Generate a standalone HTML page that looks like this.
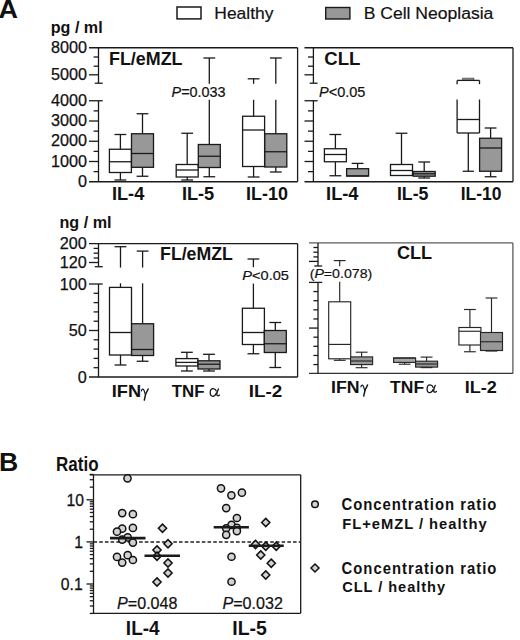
<!DOCTYPE html>
<html><head><meta charset="utf-8"><style>
html,body{margin:0;padding:0;background:#fff;}
svg{display:block;}
</style></head><body>
<svg width="520" height="640" viewBox="0 0 520 640">
<rect width="520" height="640" fill="#fff"/>
<line x1="89.00" y1="47.75" x2="297.60" y2="47.75" stroke="#1a1a1a" stroke-width="1.3"/>
<line x1="297.60" y1="47.75" x2="297.60" y2="181.75" stroke="#1a1a1a" stroke-width="1.3"/>
<line x1="89.00" y1="181.75" x2="297.60" y2="181.75" stroke="#1a1a1a" stroke-width="1.3"/>
<line x1="98.50" y1="47.75" x2="98.50" y2="83.20" stroke="#1a1a1a" stroke-width="1.3"/>
<line x1="93.60" y1="57.00" x2="98.50" y2="57.00" stroke="#1a1a1a" stroke-width="1.3"/>
<line x1="93.60" y1="66.20" x2="98.50" y2="66.20" stroke="#1a1a1a" stroke-width="1.3"/>
<line x1="89.00" y1="74.80" x2="98.50" y2="74.80" stroke="#1a1a1a" stroke-width="1.3"/>
<line x1="94.80" y1="83.20" x2="102.70" y2="83.20" stroke="#1a1a1a" stroke-width="1.3"/>
<line x1="98.50" y1="100.75" x2="98.50" y2="181.75" stroke="#1a1a1a" stroke-width="1.3"/>
<line x1="89.00" y1="100.75" x2="102.70" y2="100.75" stroke="#1a1a1a" stroke-width="1.3"/>
<line x1="93.60" y1="110.88" x2="98.50" y2="110.88" stroke="#1a1a1a" stroke-width="1.3"/>
<line x1="93.60" y1="131.12" x2="98.50" y2="131.12" stroke="#1a1a1a" stroke-width="1.3"/>
<line x1="93.60" y1="151.38" x2="98.50" y2="151.38" stroke="#1a1a1a" stroke-width="1.3"/>
<line x1="93.60" y1="171.62" x2="98.50" y2="171.62" stroke="#1a1a1a" stroke-width="1.3"/>
<line x1="89.00" y1="121.00" x2="98.50" y2="121.00" stroke="#1a1a1a" stroke-width="1.3"/>
<line x1="89.00" y1="141.25" x2="98.50" y2="141.25" stroke="#1a1a1a" stroke-width="1.3"/>
<line x1="89.00" y1="161.50" x2="98.50" y2="161.50" stroke="#1a1a1a" stroke-width="1.3"/>
<line x1="304.50" y1="47.75" x2="513.00" y2="47.75" stroke="#1a1a1a" stroke-width="1.3"/>
<line x1="513.00" y1="47.75" x2="513.00" y2="181.75" stroke="#1a1a1a" stroke-width="1.3"/>
<line x1="304.50" y1="181.75" x2="513.00" y2="181.75" stroke="#1a1a1a" stroke-width="1.3"/>
<line x1="313.40" y1="47.75" x2="313.40" y2="83.20" stroke="#1a1a1a" stroke-width="1.3"/>
<line x1="308.00" y1="57.00" x2="313.40" y2="57.00" stroke="#1a1a1a" stroke-width="1.3"/>
<line x1="308.00" y1="66.20" x2="313.40" y2="66.20" stroke="#1a1a1a" stroke-width="1.3"/>
<line x1="304.50" y1="74.80" x2="313.40" y2="74.80" stroke="#1a1a1a" stroke-width="1.3"/>
<line x1="309.70" y1="83.20" x2="317.60" y2="83.20" stroke="#1a1a1a" stroke-width="1.3"/>
<line x1="313.40" y1="100.75" x2="313.40" y2="181.75" stroke="#1a1a1a" stroke-width="1.3"/>
<line x1="304.50" y1="100.75" x2="317.60" y2="100.75" stroke="#1a1a1a" stroke-width="1.3"/>
<line x1="308.00" y1="110.88" x2="313.40" y2="110.88" stroke="#1a1a1a" stroke-width="1.3"/>
<line x1="308.00" y1="131.12" x2="313.40" y2="131.12" stroke="#1a1a1a" stroke-width="1.3"/>
<line x1="308.00" y1="151.38" x2="313.40" y2="151.38" stroke="#1a1a1a" stroke-width="1.3"/>
<line x1="308.00" y1="171.62" x2="313.40" y2="171.62" stroke="#1a1a1a" stroke-width="1.3"/>
<line x1="304.50" y1="121.00" x2="313.40" y2="121.00" stroke="#1a1a1a" stroke-width="1.3"/>
<line x1="304.50" y1="141.25" x2="313.40" y2="141.25" stroke="#1a1a1a" stroke-width="1.3"/>
<line x1="304.50" y1="161.50" x2="313.40" y2="161.50" stroke="#1a1a1a" stroke-width="1.3"/>
<line x1="120.40" y1="134.50" x2="120.40" y2="149.25" stroke="#1a1a1a" stroke-width="1.3"/>
<line x1="114.50" y1="134.50" x2="126.30" y2="134.50" stroke="#1a1a1a" stroke-width="1.3"/>
<line x1="120.40" y1="172.50" x2="120.40" y2="180.00" stroke="#1a1a1a" stroke-width="1.3"/>
<line x1="114.50" y1="180.00" x2="126.30" y2="180.00" stroke="#1a1a1a" stroke-width="1.3"/>
<rect x="109.40" y="149.25" width="22.00" height="23.25" fill="#fff" stroke="#1a1a1a" stroke-width="1.3"/>
<line x1="109.40" y1="161.75" x2="131.40" y2="161.75" stroke="#1a1a1a" stroke-width="1.3"/>
<line x1="142.50" y1="113.75" x2="142.50" y2="133.75" stroke="#1a1a1a" stroke-width="1.3"/>
<line x1="136.60" y1="113.75" x2="148.40" y2="113.75" stroke="#1a1a1a" stroke-width="1.3"/>
<line x1="142.50" y1="167.30" x2="142.50" y2="176.25" stroke="#1a1a1a" stroke-width="1.3"/>
<line x1="136.60" y1="176.25" x2="148.40" y2="176.25" stroke="#1a1a1a" stroke-width="1.3"/>
<rect x="131.50" y="133.75" width="22.00" height="33.55" fill="#989898" stroke="#1a1a1a" stroke-width="1.3"/>
<line x1="131.50" y1="153.50" x2="153.50" y2="153.50" stroke="#1a1a1a" stroke-width="1.3"/>
<line x1="187.20" y1="133.25" x2="187.20" y2="164.50" stroke="#1a1a1a" stroke-width="1.3"/>
<line x1="181.30" y1="133.25" x2="193.10" y2="133.25" stroke="#1a1a1a" stroke-width="1.3"/>
<line x1="187.20" y1="177.00" x2="187.20" y2="180.00" stroke="#1a1a1a" stroke-width="1.3"/>
<line x1="181.30" y1="180.00" x2="193.10" y2="180.00" stroke="#1a1a1a" stroke-width="1.3"/>
<rect x="176.20" y="164.50" width="22.00" height="12.50" fill="#fff" stroke="#1a1a1a" stroke-width="1.3"/>
<line x1="176.20" y1="170.00" x2="198.20" y2="170.00" stroke="#1a1a1a" stroke-width="1.3"/>
<line x1="209.30" y1="58.00" x2="209.30" y2="83.80" stroke="#1a1a1a" stroke-width="1.3"/>
<line x1="209.30" y1="99.80" x2="209.30" y2="144.50" stroke="#1a1a1a" stroke-width="1.3"/>
<line x1="203.40" y1="58.00" x2="215.20" y2="58.00" stroke="#1a1a1a" stroke-width="1.3"/>
<line x1="209.30" y1="167.50" x2="209.30" y2="176.75" stroke="#1a1a1a" stroke-width="1.3"/>
<line x1="203.40" y1="176.75" x2="215.20" y2="176.75" stroke="#1a1a1a" stroke-width="1.3"/>
<rect x="198.30" y="144.50" width="22.00" height="23.00" fill="#989898" stroke="#1a1a1a" stroke-width="1.3"/>
<line x1="198.30" y1="156.25" x2="220.30" y2="156.25" stroke="#1a1a1a" stroke-width="1.3"/>
<line x1="253.60" y1="78.80" x2="253.60" y2="83.80" stroke="#1a1a1a" stroke-width="1.3"/>
<line x1="253.60" y1="99.80" x2="253.60" y2="116.25" stroke="#1a1a1a" stroke-width="1.3"/>
<line x1="247.70" y1="78.80" x2="259.50" y2="78.80" stroke="#1a1a1a" stroke-width="1.3"/>
<line x1="253.60" y1="166.50" x2="253.60" y2="177.00" stroke="#1a1a1a" stroke-width="1.3"/>
<line x1="247.70" y1="177.00" x2="259.50" y2="177.00" stroke="#1a1a1a" stroke-width="1.3"/>
<rect x="242.60" y="116.25" width="22.00" height="50.25" fill="#fff" stroke="#1a1a1a" stroke-width="1.3"/>
<line x1="242.60" y1="130.00" x2="264.60" y2="130.00" stroke="#1a1a1a" stroke-width="1.3"/>
<line x1="275.80" y1="58.00" x2="275.80" y2="83.80" stroke="#1a1a1a" stroke-width="1.3"/>
<line x1="275.80" y1="99.80" x2="275.80" y2="133.75" stroke="#1a1a1a" stroke-width="1.3"/>
<line x1="269.90" y1="58.00" x2="281.70" y2="58.00" stroke="#1a1a1a" stroke-width="1.3"/>
<line x1="275.80" y1="167.00" x2="275.80" y2="172.00" stroke="#1a1a1a" stroke-width="1.3"/>
<line x1="269.90" y1="172.00" x2="281.70" y2="172.00" stroke="#1a1a1a" stroke-width="1.3"/>
<rect x="264.80" y="133.75" width="22.00" height="33.25" fill="#989898" stroke="#1a1a1a" stroke-width="1.3"/>
<line x1="264.80" y1="151.75" x2="286.80" y2="151.75" stroke="#1a1a1a" stroke-width="1.3"/>
<line x1="335.40" y1="134.50" x2="335.40" y2="148.75" stroke="#1a1a1a" stroke-width="1.3"/>
<line x1="329.50" y1="134.50" x2="341.30" y2="134.50" stroke="#1a1a1a" stroke-width="1.3"/>
<line x1="335.40" y1="161.75" x2="335.40" y2="175.75" stroke="#1a1a1a" stroke-width="1.3"/>
<line x1="329.50" y1="175.75" x2="341.30" y2="175.75" stroke="#1a1a1a" stroke-width="1.3"/>
<rect x="324.40" y="148.75" width="22.00" height="13.00" fill="#fff" stroke="#1a1a1a" stroke-width="1.3"/>
<line x1="324.40" y1="154.50" x2="346.40" y2="154.50" stroke="#1a1a1a" stroke-width="1.3"/>
<line x1="357.60" y1="163.40" x2="357.60" y2="168.70" stroke="#1a1a1a" stroke-width="1.3"/>
<line x1="351.70" y1="163.40" x2="363.50" y2="163.40" stroke="#1a1a1a" stroke-width="1.3"/>
<rect x="346.60" y="168.70" width="22.00" height="7.30" fill="#989898" stroke="#1a1a1a" stroke-width="1.3"/>
<line x1="346.60" y1="176.00" x2="368.60" y2="176.00" stroke="#1a1a1a" stroke-width="1.3"/>
<line x1="401.50" y1="133.25" x2="401.50" y2="164.50" stroke="#1a1a1a" stroke-width="1.3"/>
<line x1="395.60" y1="133.25" x2="407.40" y2="133.25" stroke="#1a1a1a" stroke-width="1.3"/>
<rect x="390.50" y="164.50" width="22.00" height="11.00" fill="#fff" stroke="#1a1a1a" stroke-width="1.3"/>
<line x1="390.50" y1="170.50" x2="412.50" y2="170.50" stroke="#1a1a1a" stroke-width="1.3"/>
<line x1="424.20" y1="162.00" x2="424.20" y2="171.50" stroke="#1a1a1a" stroke-width="1.3"/>
<line x1="418.30" y1="162.00" x2="430.10" y2="162.00" stroke="#1a1a1a" stroke-width="1.3"/>
<line x1="424.20" y1="176.20" x2="424.20" y2="178.00" stroke="#1a1a1a" stroke-width="1.3"/>
<line x1="418.30" y1="178.00" x2="430.10" y2="178.00" stroke="#1a1a1a" stroke-width="1.3"/>
<rect x="413.20" y="171.50" width="22.00" height="4.70" fill="#989898" stroke="#1a1a1a" stroke-width="1.3"/>
<line x1="413.20" y1="173.80" x2="435.20" y2="173.80" stroke="#1a1a1a" stroke-width="1.3"/>
<rect x="457.10" y="99.5" width="22.40" height="33.50" fill="#fff" stroke="none"/>
<line x1="457.10" y1="99.50" x2="457.10" y2="133.00" stroke="#1a1a1a" stroke-width="1.3"/>
<line x1="479.50" y1="99.50" x2="479.50" y2="133.00" stroke="#1a1a1a" stroke-width="1.3"/>
<line x1="457.10" y1="133.00" x2="479.50" y2="133.00" stroke="#1a1a1a" stroke-width="1.3"/>
<line x1="457.10" y1="80.40" x2="479.50" y2="80.40" stroke="#1a1a1a" stroke-width="1.3"/>
<line x1="457.10" y1="80.40" x2="457.10" y2="84.20" stroke="#1a1a1a" stroke-width="1.3"/>
<line x1="479.50" y1="80.40" x2="479.50" y2="84.20" stroke="#1a1a1a" stroke-width="1.3"/>
<rect x="462.70" y="78.1" width="11.2" height="1.8" fill="#9a9a9a" stroke="#333" stroke-width="0.6"/>
<line x1="457.10" y1="119.50" x2="479.50" y2="119.50" stroke="#1a1a1a" stroke-width="1.3"/>
<line x1="468.30" y1="133.00" x2="468.30" y2="171.25" stroke="#1a1a1a" stroke-width="1.3"/>
<line x1="462.70" y1="171.25" x2="473.90" y2="171.25" stroke="#1a1a1a" stroke-width="1.3"/>
<line x1="490.60" y1="128.00" x2="490.60" y2="138.25" stroke="#1a1a1a" stroke-width="1.3"/>
<line x1="484.70" y1="128.00" x2="496.50" y2="128.00" stroke="#1a1a1a" stroke-width="1.3"/>
<line x1="490.60" y1="171.25" x2="490.60" y2="176.75" stroke="#1a1a1a" stroke-width="1.3"/>
<line x1="484.70" y1="176.75" x2="496.50" y2="176.75" stroke="#1a1a1a" stroke-width="1.3"/>
<rect x="479.60" y="138.25" width="22.00" height="33.00" fill="#989898" stroke="#1a1a1a" stroke-width="1.3"/>
<line x1="479.60" y1="148.00" x2="501.60" y2="148.00" stroke="#1a1a1a" stroke-width="1.3"/>
<text transform="translate(86.93,52.84) scale(1,1.000)" text-anchor="end" font-family="Liberation Sans" font-size="16.2" fill="#111" stroke="#111" stroke-width="0.25">8000</text>
<text transform="translate(86.93,79.89) scale(1,1.000)" text-anchor="end" font-family="Liberation Sans" font-size="16.2" fill="#111" stroke="#111" stroke-width="0.25">5000</text>
<text transform="translate(86.93,105.84) scale(1,1.000)" text-anchor="end" font-family="Liberation Sans" font-size="16.2" fill="#111" stroke="#111" stroke-width="0.25">4000</text>
<text transform="translate(86.93,126.09) scale(1,1.000)" text-anchor="end" font-family="Liberation Sans" font-size="16.2" fill="#111" stroke="#111" stroke-width="0.25">3000</text>
<text transform="translate(86.93,146.34) scale(1,1.000)" text-anchor="end" font-family="Liberation Sans" font-size="16.2" fill="#111" stroke="#111" stroke-width="0.25">2000</text>
<text transform="translate(86.93,166.59) scale(1,1.000)" text-anchor="end" font-family="Liberation Sans" font-size="16.2" fill="#111" stroke="#111" stroke-width="0.25">1000</text>
<text transform="translate(86.93,186.84) scale(1,1.000)" text-anchor="end" font-family="Liberation Sans" font-size="16.2" fill="#111" stroke="#111" stroke-width="0.25">0</text>
<line x1="89.00" y1="243.60" x2="297.60" y2="243.60" stroke="#1a1a1a" stroke-width="1.3"/>
<line x1="297.60" y1="243.60" x2="297.60" y2="377.00" stroke="#1a1a1a" stroke-width="1.3"/>
<line x1="89.00" y1="377.00" x2="297.60" y2="377.00" stroke="#1a1a1a" stroke-width="1.3"/>
<line x1="98.50" y1="243.60" x2="98.50" y2="266.70" stroke="#1a1a1a" stroke-width="1.3"/>
<line x1="93.60" y1="248.40" x2="98.50" y2="248.40" stroke="#1a1a1a" stroke-width="1.3"/>
<line x1="93.60" y1="253.20" x2="98.50" y2="253.20" stroke="#1a1a1a" stroke-width="1.3"/>
<line x1="93.60" y1="258.00" x2="98.50" y2="258.00" stroke="#1a1a1a" stroke-width="1.3"/>
<line x1="89.00" y1="262.50" x2="98.50" y2="262.50" stroke="#1a1a1a" stroke-width="1.3"/>
<line x1="94.80" y1="266.70" x2="102.70" y2="266.70" stroke="#1a1a1a" stroke-width="1.3"/>
<line x1="98.50" y1="284.00" x2="98.50" y2="377.00" stroke="#1a1a1a" stroke-width="1.3"/>
<line x1="89.00" y1="284.00" x2="102.70" y2="284.00" stroke="#1a1a1a" stroke-width="1.3"/>
<line x1="93.60" y1="293.30" x2="98.50" y2="293.30" stroke="#1a1a1a" stroke-width="1.3"/>
<line x1="93.60" y1="302.60" x2="98.50" y2="302.60" stroke="#1a1a1a" stroke-width="1.3"/>
<line x1="93.60" y1="311.90" x2="98.50" y2="311.90" stroke="#1a1a1a" stroke-width="1.3"/>
<line x1="93.60" y1="321.20" x2="98.50" y2="321.20" stroke="#1a1a1a" stroke-width="1.3"/>
<line x1="93.60" y1="339.80" x2="98.50" y2="339.80" stroke="#1a1a1a" stroke-width="1.3"/>
<line x1="93.60" y1="349.10" x2="98.50" y2="349.10" stroke="#1a1a1a" stroke-width="1.3"/>
<line x1="93.60" y1="358.40" x2="98.50" y2="358.40" stroke="#1a1a1a" stroke-width="1.3"/>
<line x1="93.60" y1="367.70" x2="98.50" y2="367.70" stroke="#1a1a1a" stroke-width="1.3"/>
<line x1="89.00" y1="330.50" x2="98.50" y2="330.50" stroke="#1a1a1a" stroke-width="1.3"/>
<line x1="309.00" y1="242.90" x2="512.90" y2="242.90" stroke="#5a5a5a" stroke-width="1.3"/>
<line x1="512.90" y1="242.90" x2="512.90" y2="373.40" stroke="#5a5a5a" stroke-width="1.3"/>
<line x1="309.00" y1="373.40" x2="512.90" y2="373.40" stroke="#333" stroke-width="1.3"/>
<line x1="318.00" y1="242.90" x2="318.00" y2="266.00" stroke="#1a1a1a" stroke-width="1.3"/>
<line x1="313.40" y1="247.50" x2="318.00" y2="247.50" stroke="#1a1a1a" stroke-width="1.3"/>
<line x1="313.40" y1="252.20" x2="318.00" y2="252.20" stroke="#1a1a1a" stroke-width="1.3"/>
<line x1="313.40" y1="256.90" x2="318.00" y2="256.90" stroke="#1a1a1a" stroke-width="1.3"/>
<line x1="309.00" y1="261.40" x2="318.00" y2="261.40" stroke="#1a1a1a" stroke-width="1.3"/>
<line x1="314.30" y1="266.00" x2="322.20" y2="266.00" stroke="#1a1a1a" stroke-width="1.3"/>
<line x1="318.00" y1="282.40" x2="318.00" y2="373.40" stroke="#1a1a1a" stroke-width="1.3"/>
<line x1="309.00" y1="282.40" x2="322.20" y2="282.40" stroke="#1a1a1a" stroke-width="1.3"/>
<line x1="313.40" y1="291.57" x2="318.00" y2="291.57" stroke="#1a1a1a" stroke-width="1.3"/>
<line x1="313.40" y1="300.70" x2="318.00" y2="300.70" stroke="#1a1a1a" stroke-width="1.3"/>
<line x1="313.40" y1="309.82" x2="318.00" y2="309.82" stroke="#1a1a1a" stroke-width="1.3"/>
<line x1="313.40" y1="318.95" x2="318.00" y2="318.95" stroke="#1a1a1a" stroke-width="1.3"/>
<line x1="313.40" y1="337.20" x2="318.00" y2="337.20" stroke="#1a1a1a" stroke-width="1.3"/>
<line x1="313.40" y1="346.32" x2="318.00" y2="346.32" stroke="#1a1a1a" stroke-width="1.3"/>
<line x1="313.40" y1="355.45" x2="318.00" y2="355.45" stroke="#1a1a1a" stroke-width="1.3"/>
<line x1="313.40" y1="364.57" x2="318.00" y2="364.57" stroke="#1a1a1a" stroke-width="1.3"/>
<line x1="309.00" y1="328.07" x2="318.00" y2="328.07" stroke="#1a1a1a" stroke-width="1.3"/>
<line x1="120.50" y1="246.70" x2="120.50" y2="267.60" stroke="#1a1a1a" stroke-width="1.3"/>
<line x1="120.50" y1="283.30" x2="120.50" y2="287.40" stroke="#1a1a1a" stroke-width="1.3"/>
<line x1="114.60" y1="246.70" x2="126.40" y2="246.70" stroke="#1a1a1a" stroke-width="1.3"/>
<line x1="120.50" y1="355.00" x2="120.50" y2="365.00" stroke="#1a1a1a" stroke-width="1.3"/>
<line x1="114.60" y1="365.00" x2="126.40" y2="365.00" stroke="#1a1a1a" stroke-width="1.3"/>
<rect x="109.50" y="287.40" width="22.00" height="67.60" fill="#fff" stroke="#1a1a1a" stroke-width="1.3"/>
<line x1="109.50" y1="332.50" x2="131.50" y2="332.50" stroke="#1a1a1a" stroke-width="1.3"/>
<line x1="142.60" y1="251.10" x2="142.60" y2="267.60" stroke="#1a1a1a" stroke-width="1.3"/>
<line x1="142.60" y1="283.30" x2="142.60" y2="323.75" stroke="#1a1a1a" stroke-width="1.3"/>
<line x1="136.70" y1="251.10" x2="148.50" y2="251.10" stroke="#1a1a1a" stroke-width="1.3"/>
<line x1="142.60" y1="355.50" x2="142.60" y2="361.25" stroke="#1a1a1a" stroke-width="1.3"/>
<line x1="136.70" y1="361.25" x2="148.50" y2="361.25" stroke="#1a1a1a" stroke-width="1.3"/>
<rect x="131.60" y="323.75" width="22.00" height="31.75" fill="#989898" stroke="#1a1a1a" stroke-width="1.3"/>
<line x1="131.60" y1="349.50" x2="153.60" y2="349.50" stroke="#1a1a1a" stroke-width="1.3"/>
<line x1="186.90" y1="352.30" x2="186.90" y2="358.60" stroke="#1a1a1a" stroke-width="1.3"/>
<line x1="181.00" y1="352.30" x2="192.80" y2="352.30" stroke="#1a1a1a" stroke-width="1.3"/>
<line x1="186.90" y1="366.00" x2="186.90" y2="371.00" stroke="#1a1a1a" stroke-width="1.3"/>
<line x1="181.00" y1="371.00" x2="192.80" y2="371.00" stroke="#1a1a1a" stroke-width="1.3"/>
<rect x="175.90" y="358.60" width="22.00" height="7.40" fill="#fff" stroke="#1a1a1a" stroke-width="1.3"/>
<line x1="175.90" y1="362.40" x2="197.90" y2="362.40" stroke="#1a1a1a" stroke-width="1.3"/>
<line x1="209.00" y1="354.30" x2="209.00" y2="360.80" stroke="#1a1a1a" stroke-width="1.3"/>
<line x1="203.10" y1="354.30" x2="214.90" y2="354.30" stroke="#1a1a1a" stroke-width="1.3"/>
<line x1="209.00" y1="369.00" x2="209.00" y2="371.00" stroke="#1a1a1a" stroke-width="1.3"/>
<line x1="203.10" y1="371.00" x2="214.90" y2="371.00" stroke="#1a1a1a" stroke-width="1.3"/>
<rect x="198.00" y="360.80" width="22.00" height="8.20" fill="#989898" stroke="#1a1a1a" stroke-width="1.3"/>
<line x1="198.00" y1="364.20" x2="220.00" y2="364.20" stroke="#1a1a1a" stroke-width="1.3"/>
<line x1="253.40" y1="259.00" x2="253.40" y2="267.20" stroke="#1a1a1a" stroke-width="1.3"/>
<line x1="253.40" y1="283.60" x2="253.40" y2="308.25" stroke="#1a1a1a" stroke-width="1.3"/>
<line x1="247.50" y1="259.00" x2="259.30" y2="259.00" stroke="#1a1a1a" stroke-width="1.3"/>
<line x1="253.40" y1="344.50" x2="253.40" y2="353.75" stroke="#1a1a1a" stroke-width="1.3"/>
<line x1="247.50" y1="353.75" x2="259.30" y2="353.75" stroke="#1a1a1a" stroke-width="1.3"/>
<rect x="242.40" y="308.25" width="22.00" height="36.25" fill="#fff" stroke="#1a1a1a" stroke-width="1.3"/>
<line x1="242.40" y1="332.50" x2="264.40" y2="332.50" stroke="#1a1a1a" stroke-width="1.3"/>
<line x1="275.30" y1="322.50" x2="275.30" y2="330.50" stroke="#1a1a1a" stroke-width="1.3"/>
<line x1="269.40" y1="322.50" x2="281.20" y2="322.50" stroke="#1a1a1a" stroke-width="1.3"/>
<line x1="275.30" y1="352.50" x2="275.30" y2="367.50" stroke="#1a1a1a" stroke-width="1.3"/>
<line x1="269.40" y1="367.50" x2="281.20" y2="367.50" stroke="#1a1a1a" stroke-width="1.3"/>
<rect x="264.30" y="330.50" width="22.00" height="22.00" fill="#989898" stroke="#1a1a1a" stroke-width="1.3"/>
<line x1="264.30" y1="343.75" x2="286.30" y2="343.75" stroke="#1a1a1a" stroke-width="1.3"/>
<line x1="339.70" y1="260.60" x2="339.70" y2="266.20" stroke="#262626" stroke-width="1.15"/>
<line x1="339.70" y1="281.70" x2="339.70" y2="301.80" stroke="#262626" stroke-width="1.15"/>
<line x1="333.80" y1="260.60" x2="345.60" y2="260.60" stroke="#262626" stroke-width="1.15"/>
<line x1="339.70" y1="358.80" x2="339.70" y2="360.30" stroke="#262626" stroke-width="1.15"/>
<line x1="333.80" y1="360.30" x2="345.60" y2="360.30" stroke="#262626" stroke-width="1.15"/>
<rect x="328.70" y="301.80" width="22.00" height="57.00" fill="#fff" stroke="#262626" stroke-width="1.15"/>
<line x1="328.70" y1="344.40" x2="350.70" y2="344.40" stroke="#262626" stroke-width="1.15"/>
<line x1="361.60" y1="352.20" x2="361.60" y2="356.90" stroke="#262626" stroke-width="1.15"/>
<line x1="355.70" y1="352.20" x2="367.50" y2="352.20" stroke="#262626" stroke-width="1.15"/>
<line x1="361.60" y1="364.60" x2="361.60" y2="367.70" stroke="#262626" stroke-width="1.15"/>
<line x1="355.70" y1="367.70" x2="367.50" y2="367.70" stroke="#262626" stroke-width="1.15"/>
<rect x="350.60" y="356.90" width="22.00" height="7.70" fill="#989898" stroke="#262626" stroke-width="1.15"/>
<line x1="350.60" y1="361.00" x2="372.60" y2="361.00" stroke="#262626" stroke-width="1.15"/>
<line x1="404.60" y1="362.40" x2="404.60" y2="364.20" stroke="#262626" stroke-width="1.15"/>
<line x1="398.70" y1="364.20" x2="410.50" y2="364.20" stroke="#262626" stroke-width="1.15"/>
<rect x="393.60" y="358.00" width="22.00" height="4.40" fill="#a8a8a8" stroke="#262626" stroke-width="1.15"/>
<line x1="393.60" y1="358.00" x2="415.60" y2="358.00" stroke="#262626" stroke-width="1.15"/>
<line x1="426.60" y1="357.10" x2="426.60" y2="361.20" stroke="#262626" stroke-width="1.15"/>
<line x1="420.70" y1="357.10" x2="432.50" y2="357.10" stroke="#262626" stroke-width="1.15"/>
<line x1="426.60" y1="367.10" x2="426.60" y2="367.60" stroke="#262626" stroke-width="1.15"/>
<line x1="420.70" y1="367.60" x2="432.50" y2="367.60" stroke="#262626" stroke-width="1.15"/>
<rect x="415.60" y="361.20" width="22.00" height="5.90" fill="#989898" stroke="#262626" stroke-width="1.15"/>
<line x1="415.60" y1="364.00" x2="437.60" y2="364.00" stroke="#262626" stroke-width="1.15"/>
<line x1="469.90" y1="309.50" x2="469.90" y2="327.50" stroke="#262626" stroke-width="1.15"/>
<line x1="464.00" y1="309.50" x2="475.80" y2="309.50" stroke="#262626" stroke-width="1.15"/>
<line x1="469.90" y1="345.00" x2="469.90" y2="351.75" stroke="#262626" stroke-width="1.15"/>
<line x1="464.00" y1="351.75" x2="475.80" y2="351.75" stroke="#262626" stroke-width="1.15"/>
<rect x="458.90" y="327.50" width="22.00" height="17.50" fill="#fff" stroke="#262626" stroke-width="1.15"/>
<line x1="458.90" y1="331.25" x2="480.90" y2="331.25" stroke="#262626" stroke-width="1.15"/>
<line x1="491.50" y1="298.00" x2="491.50" y2="332.50" stroke="#262626" stroke-width="1.15"/>
<line x1="485.60" y1="298.00" x2="497.40" y2="298.00" stroke="#262626" stroke-width="1.15"/>
<line x1="491.50" y1="350.50" x2="491.50" y2="351.00" stroke="#262626" stroke-width="1.15"/>
<line x1="485.60" y1="351.00" x2="497.40" y2="351.00" stroke="#262626" stroke-width="1.15"/>
<rect x="480.50" y="332.50" width="22.00" height="18.00" fill="#989898" stroke="#262626" stroke-width="1.15"/>
<line x1="480.50" y1="341.75" x2="502.50" y2="341.75" stroke="#262626" stroke-width="1.15"/>
<text transform="translate(86.83,249.29) scale(1,1.000)" text-anchor="end" font-family="Liberation Sans" font-size="16.2" fill="#111" stroke="#111" stroke-width="0.25">200</text>
<text transform="translate(86.83,268.29) scale(1,1.000)" text-anchor="end" font-family="Liberation Sans" font-size="16.2" fill="#111" stroke="#111" stroke-width="0.25">120</text>
<text transform="translate(86.83,289.79) scale(1,1.000)" text-anchor="end" font-family="Liberation Sans" font-size="16.2" fill="#111" stroke="#111" stroke-width="0.25">100</text>
<text transform="translate(86.83,336.29) scale(1,1.000)" text-anchor="end" font-family="Liberation Sans" font-size="16.2" fill="#111" stroke="#111" stroke-width="0.25">50</text>
<text transform="translate(86.83,382.79) scale(1,1.000)" text-anchor="end" font-family="Liberation Sans" font-size="16.2" fill="#111" stroke="#111" stroke-width="0.25">0</text>
<line x1="89.60" y1="474.80" x2="300.70" y2="474.80" stroke="#1a1a1a" stroke-width="1.3"/>
<line x1="300.70" y1="474.80" x2="300.70" y2="613.30" stroke="#1a1a1a" stroke-width="1.3"/>
<line x1="92.90" y1="613.30" x2="300.70" y2="613.30" stroke="#1a1a1a" stroke-width="1.3"/>
<line x1="93.50" y1="474.80" x2="93.50" y2="613.30" stroke="#1a1a1a" stroke-width="1.3"/>
<line x1="89.80" y1="613.43" x2="93.50" y2="613.43" stroke="#1a1a1a" stroke-width="1.3"/>
<line x1="89.80" y1="606.01" x2="93.50" y2="606.01" stroke="#1a1a1a" stroke-width="1.3"/>
<line x1="89.80" y1="600.75" x2="93.50" y2="600.75" stroke="#1a1a1a" stroke-width="1.3"/>
<line x1="89.80" y1="596.67" x2="93.50" y2="596.67" stroke="#1a1a1a" stroke-width="1.3"/>
<line x1="89.80" y1="593.34" x2="93.50" y2="593.34" stroke="#1a1a1a" stroke-width="1.3"/>
<line x1="89.80" y1="590.52" x2="93.50" y2="590.52" stroke="#1a1a1a" stroke-width="1.3"/>
<line x1="89.80" y1="588.08" x2="93.50" y2="588.08" stroke="#1a1a1a" stroke-width="1.3"/>
<line x1="89.80" y1="585.93" x2="93.50" y2="585.93" stroke="#1a1a1a" stroke-width="1.3"/>
<line x1="86.50" y1="584.00" x2="93.50" y2="584.00" stroke="#1a1a1a" stroke-width="1.3"/>
<line x1="89.80" y1="571.33" x2="93.50" y2="571.33" stroke="#1a1a1a" stroke-width="1.3"/>
<line x1="89.80" y1="563.91" x2="93.50" y2="563.91" stroke="#1a1a1a" stroke-width="1.3"/>
<line x1="89.80" y1="558.65" x2="93.50" y2="558.65" stroke="#1a1a1a" stroke-width="1.3"/>
<line x1="89.80" y1="554.57" x2="93.50" y2="554.57" stroke="#1a1a1a" stroke-width="1.3"/>
<line x1="89.80" y1="551.24" x2="93.50" y2="551.24" stroke="#1a1a1a" stroke-width="1.3"/>
<line x1="89.80" y1="548.42" x2="93.50" y2="548.42" stroke="#1a1a1a" stroke-width="1.3"/>
<line x1="89.80" y1="545.98" x2="93.50" y2="545.98" stroke="#1a1a1a" stroke-width="1.3"/>
<line x1="89.80" y1="543.83" x2="93.50" y2="543.83" stroke="#1a1a1a" stroke-width="1.3"/>
<line x1="86.50" y1="541.90" x2="93.50" y2="541.90" stroke="#1a1a1a" stroke-width="1.3"/>
<line x1="89.80" y1="529.23" x2="93.50" y2="529.23" stroke="#1a1a1a" stroke-width="1.3"/>
<line x1="89.80" y1="521.81" x2="93.50" y2="521.81" stroke="#1a1a1a" stroke-width="1.3"/>
<line x1="89.80" y1="516.55" x2="93.50" y2="516.55" stroke="#1a1a1a" stroke-width="1.3"/>
<line x1="89.80" y1="512.47" x2="93.50" y2="512.47" stroke="#1a1a1a" stroke-width="1.3"/>
<line x1="89.80" y1="509.14" x2="93.50" y2="509.14" stroke="#1a1a1a" stroke-width="1.3"/>
<line x1="89.80" y1="506.32" x2="93.50" y2="506.32" stroke="#1a1a1a" stroke-width="1.3"/>
<line x1="89.80" y1="503.88" x2="93.50" y2="503.88" stroke="#1a1a1a" stroke-width="1.3"/>
<line x1="89.80" y1="501.73" x2="93.50" y2="501.73" stroke="#1a1a1a" stroke-width="1.3"/>
<line x1="86.50" y1="499.80" x2="93.50" y2="499.80" stroke="#1a1a1a" stroke-width="1.3"/>
<line x1="89.80" y1="487.13" x2="93.50" y2="487.13" stroke="#1a1a1a" stroke-width="1.3"/>
<line x1="89.80" y1="479.71" x2="93.50" y2="479.71" stroke="#1a1a1a" stroke-width="1.3"/>
<line x1="89.80" y1="474.45" x2="93.50" y2="474.45" stroke="#1a1a1a" stroke-width="1.3"/>
<text transform="translate(84.01,505.65) scale(1,1.080)" text-anchor="end" font-family="Liberation Sans" font-size="15.7" fill="#111" stroke="#111" stroke-width="0.25">10</text>
<text transform="translate(83.11,547.75) scale(1,1.080)" text-anchor="end" font-family="Liberation Sans" font-size="15.7" fill="#111" stroke="#111" stroke-width="0.25">1</text>
<text transform="translate(82.61,589.85) scale(1,1.080)" text-anchor="end" font-family="Liberation Sans" font-size="15.7" fill="#111" stroke="#111" stroke-width="0.25">0.1</text>
<line x1="93.50" y1="542.00" x2="300.70" y2="542.00" stroke="#222" stroke-width="1.5" stroke-dasharray="3.6 2.1"/>
<circle cx="127.50" cy="478.30" r="3.6" fill="#d2d2d2" stroke="#111" stroke-width="1.5"/>
<circle cx="122.20" cy="513.10" r="3.6" fill="#d2d2d2" stroke="#111" stroke-width="1.5"/>
<circle cx="132.90" cy="514.20" r="3.6" fill="#d2d2d2" stroke="#111" stroke-width="1.5"/>
<circle cx="122.20" cy="528.70" r="3.6" fill="#d2d2d2" stroke="#111" stroke-width="1.5"/>
<circle cx="117.00" cy="531.70" r="3.6" fill="#d2d2d2" stroke="#111" stroke-width="1.5"/>
<circle cx="132.90" cy="527.90" r="3.6" fill="#d2d2d2" stroke="#111" stroke-width="1.5"/>
<circle cx="127.70" cy="537.40" r="3.6" fill="#d2d2d2" stroke="#111" stroke-width="1.5"/>
<circle cx="122.20" cy="539.60" r="3.6" fill="#d2d2d2" stroke="#111" stroke-width="1.5"/>
<circle cx="132.90" cy="542.60" r="3.6" fill="#d2d2d2" stroke="#111" stroke-width="1.5"/>
<circle cx="117.00" cy="556.90" r="3.6" fill="#d2d2d2" stroke="#111" stroke-width="1.5"/>
<circle cx="127.70" cy="555.20" r="3.6" fill="#d2d2d2" stroke="#111" stroke-width="1.5"/>
<circle cx="122.20" cy="562.60" r="3.6" fill="#d2d2d2" stroke="#111" stroke-width="1.5"/>
<circle cx="132.90" cy="560.00" r="3.6" fill="#d2d2d2" stroke="#111" stroke-width="1.5"/>
<line x1="110.00" y1="538.10" x2="145.50" y2="538.10" stroke="#1a1a1a" stroke-width="2.6"/>
<path d="M162.50 524.15L166.60 528.25L162.50 532.35L158.40 528.25Z" fill="#d2d2d2" stroke="#111" stroke-width="1.5"/>
<path d="M168.00 539.65L172.10 543.75L168.00 547.85L163.90 543.75Z" fill="#d2d2d2" stroke="#111" stroke-width="1.5"/>
<path d="M157.00 545.90L161.10 550.00L157.00 554.10L152.90 550.00Z" fill="#d2d2d2" stroke="#111" stroke-width="1.5"/>
<path d="M157.00 552.15L161.10 556.25L157.00 560.35L152.90 556.25Z" fill="#d2d2d2" stroke="#111" stroke-width="1.5"/>
<path d="M168.00 558.90L172.10 563.00L168.00 567.10L163.90 563.00Z" fill="#d2d2d2" stroke="#111" stroke-width="1.5"/>
<path d="M168.00 568.90L172.10 573.00L168.00 577.10L163.90 573.00Z" fill="#d2d2d2" stroke="#111" stroke-width="1.5"/>
<path d="M157.00 577.90L161.10 582.00L157.00 586.10L152.90 582.00Z" fill="#d2d2d2" stroke="#111" stroke-width="1.5"/>
<line x1="144.50" y1="555.80" x2="180.00" y2="555.80" stroke="#1a1a1a" stroke-width="2.6"/>
<circle cx="221.00" cy="488.30" r="3.6" fill="#d2d2d2" stroke="#111" stroke-width="1.5"/>
<circle cx="231.40" cy="495.30" r="3.6" fill="#d2d2d2" stroke="#111" stroke-width="1.5"/>
<circle cx="241.90" cy="492.70" r="3.6" fill="#d2d2d2" stroke="#111" stroke-width="1.5"/>
<circle cx="226.20" cy="508.10" r="3.6" fill="#d2d2d2" stroke="#111" stroke-width="1.5"/>
<circle cx="236.90" cy="518.00" r="3.6" fill="#d2d2d2" stroke="#111" stroke-width="1.5"/>
<circle cx="231.50" cy="524.80" r="3.6" fill="#d2d2d2" stroke="#111" stroke-width="1.5"/>
<circle cx="226.20" cy="528.30" r="3.6" fill="#d2d2d2" stroke="#111" stroke-width="1.5"/>
<circle cx="236.90" cy="527.80" r="3.6" fill="#d2d2d2" stroke="#111" stroke-width="1.5"/>
<circle cx="236.90" cy="531.10" r="3.6" fill="#d2d2d2" stroke="#111" stroke-width="1.5"/>
<circle cx="226.20" cy="534.80" r="3.6" fill="#d2d2d2" stroke="#111" stroke-width="1.5"/>
<circle cx="231.50" cy="556.75" r="3.6" fill="#d2d2d2" stroke="#111" stroke-width="1.5"/>
<circle cx="231.50" cy="581.75" r="3.6" fill="#d2d2d2" stroke="#111" stroke-width="1.5"/>
<line x1="213.70" y1="527.30" x2="248.90" y2="527.30" stroke="#1a1a1a" stroke-width="2.6"/>
<path d="M265.75 518.40L269.85 522.50L265.75 526.60L261.65 522.50Z" fill="#d2d2d2" stroke="#111" stroke-width="1.5"/>
<path d="M255.50 540.40L259.60 544.50L255.50 548.60L251.40 544.50Z" fill="#d2d2d2" stroke="#111" stroke-width="1.5"/>
<path d="M265.75 542.15L269.85 546.25L265.75 550.35L261.65 546.25Z" fill="#d2d2d2" stroke="#111" stroke-width="1.5"/>
<path d="M276.25 542.15L280.35 546.25L276.25 550.35L272.15 546.25Z" fill="#d2d2d2" stroke="#111" stroke-width="1.5"/>
<path d="M260.75 550.90L264.85 555.00L260.75 559.10L256.65 555.00Z" fill="#d2d2d2" stroke="#111" stroke-width="1.5"/>
<path d="M271.25 559.15L275.35 563.25L271.25 567.35L267.15 563.25Z" fill="#d2d2d2" stroke="#111" stroke-width="1.5"/>
<path d="M265.75 570.90L269.85 575.00L265.75 579.10L261.65 575.00Z" fill="#d2d2d2" stroke="#111" stroke-width="1.5"/>
<line x1="248.75" y1="545.80" x2="283.75" y2="545.80" stroke="#1a1a1a" stroke-width="2.6"/>
<circle cx="315.00" cy="504.30" r="3.3" fill="#d2d2d2" stroke="#111" stroke-width="1.5"/>
<path d="M315.00 564.00L319.00 568.00L315.00 572.00L311.00 568.00Z" fill="#d2d2d2" stroke="#111" stroke-width="1.5"/>
<text transform="translate(-1.46,17.60) scale(1.123,1.074)" font-family="Liberation Sans" font-size="24" font-weight="bold" fill="#111">A</text>
<text transform="translate(-0.96,470.50) scale(1.112,1.068)" font-family="Liberation Sans" font-size="24" font-weight="bold" fill="#111">B</text>
<text transform="translate(50.79,32.70) scale(1.006,0.991)" font-family="Liberation Sans" font-size="16" font-weight="bold" fill="#111">pg / ml</text>
<text transform="translate(59.49,227.90) scale(1.010,1.000)" font-family="Liberation Sans" font-size="16" font-weight="bold" fill="#111">ng / ml</text>
<text transform="translate(56.10,470.80) scale(1.000,1.143)" font-family="Liberation Sans" font-size="17" font-weight="bold" fill="#111">Ratio</text>
<rect x="177.00" y="7.00" width="24.00" height="11.90" fill="#fff" stroke="#1a1a1a" stroke-width="1.5"/>
<rect x="325.70" y="7.50" width="24.20" height="11.50" fill="#989898" stroke="#1a1a1a" stroke-width="1.4"/>
<text transform="translate(214.31,18.85) scale(0.997,0.996)" font-family="Liberation Sans" font-size="17.5" font-weight="normal" fill="#111" stroke="#111" stroke-width="0.2">Healthy</text>
<text transform="translate(363.70,18.85) scale(1.003,0.988)" font-family="Liberation Sans" font-size="17.5" font-weight="normal" fill="#111" stroke="#111" stroke-width="0.2">B Cell Neoplasia</text>
<text transform="translate(108.96,64.70) scale(1.023,1.016)" font-family="Liberation Sans" font-size="17.5" font-weight="bold" fill="#111">FL/eMZL</text>
<text transform="translate(324.22,64.70) scale(1.062,1.000)" font-family="Liberation Sans" font-size="17.5" font-weight="bold" fill="#111">CLL</text>
<text transform="translate(160.08,260.20) scale(1.012,1.024)" font-family="Liberation Sans" font-size="17.5" font-weight="bold" fill="#111">FL/eMZL</text>
<text transform="translate(396.96,258.90) scale(1.034,1.008)" font-family="Liberation Sans" font-size="17.5" font-weight="bold" fill="#111">CLL</text>
<text transform="translate(171.59,97.30) scale(1.029,1.022)" font-family="Liberation Sans" font-size="14" font-weight="normal" fill="#111" stroke="#111" stroke-width="0.2"><tspan font-style="italic">P</tspan>=0.033</text>
<text transform="translate(319.07,97.30) scale(1.035,0.989)" font-family="Liberation Sans" font-size="14" font-weight="normal" fill="#111" stroke="#111" stroke-width="0.2"><tspan font-style="italic">P</tspan>&lt;0.05</text>
<text transform="translate(242.36,279.90) scale(1.041,0.979)" font-family="Liberation Sans" font-size="14" font-weight="normal" fill="#111" stroke="#111" stroke-width="0.2"><tspan font-style="italic">P</tspan>&lt;0.05</text>
<text transform="translate(309.69,278.01) scale(1.012,0.933)" font-family="Liberation Sans" font-size="14" font-weight="normal" fill="#111" stroke="#111" stroke-width="0.2">(<tspan font-style="italic">P</tspan>=0.078)</text>
<text transform="translate(117.04,609.10) scale(1.074,1.105)" font-family="Liberation Sans" font-size="15" font-weight="normal" fill="#111" stroke="#111" stroke-width="0.2"><tspan font-style="italic">P</tspan>=0.048</text>
<text transform="translate(222.43,609.10) scale(1.074,1.105)" font-family="Liberation Sans" font-size="15" font-weight="normal" fill="#111" stroke="#111" stroke-width="0.2"><tspan font-style="italic">P</tspan>=0.032</text>
<text transform="translate(111.88,199.60) scale(1.013,1.065)" font-family="Liberation Sans" font-size="18" font-weight="bold" fill="#111">IL-4</text>
<text transform="translate(181.89,199.60) scale(1.010,1.065)" font-family="Liberation Sans" font-size="18" font-weight="bold" fill="#111">IL-5</text>
<text transform="translate(246.10,199.60) scale(0.998,1.065)" font-family="Liberation Sans" font-size="18" font-weight="bold" fill="#111">IL-10</text>
<text transform="translate(326.08,199.60) scale(1.013,1.065)" font-family="Liberation Sans" font-size="18" font-weight="bold" fill="#111">IL-4</text>
<text transform="translate(396.92,199.60) scale(0.987,1.065)" font-family="Liberation Sans" font-size="18" font-weight="bold" fill="#111">IL-5</text>
<text transform="translate(460.74,199.60) scale(0.972,1.065)" font-family="Liberation Sans" font-size="18" font-weight="bold" fill="#111">IL-10</text>
<text transform="translate(111.74,396.60) scale(1.043,0.992)" font-family="Liberation Sans" font-size="17.5" font-weight="bold" fill="#111">IFN</text>
<g transform="translate(0.00,0.00)" fill="none" stroke="#111" stroke-linecap="round"><path d="M141.5,390.9 C141.6,389.1 142.9,388.4 143.9,390.0 L145.5,394.7" stroke-width="1.1"/><path d="M148.2,389.0 L145.6,394.3 L144.3,400.1" stroke-width="1.45"/></g>
<text transform="translate(171.73,396.70) scale(0.963,0.976)" font-family="Liberation Sans" font-size="17.5" font-weight="bold" fill="#111">TNF</text>
<g transform="translate(0.00,0.00)" fill="none" stroke="#111" stroke-linecap="round"><path d="M216.3,391.0 C215.6,389.2 214.6,388.5 213.1,388.5 C211.0,388.5 210.2,390.5 210.2,392.6 C210.2,394.9 211.2,396.3 212.9,396.3 C214.6,396.3 215.6,394.8 216.4,392.9" stroke-width="1.25"/><path d="M218.4,388.9 C217.5,391.0 216.9,393.3 216.7,394.4 C216.9,396.0 218.2,396.2 219.5,395.1" stroke-width="1.25"/></g>
<text transform="translate(248.77,396.70) scale(1.077,0.992)" font-family="Liberation Sans" font-size="17.5" font-weight="bold" fill="#111">IL-2</text>
<text transform="translate(331.07,392.60) scale(1.016,0.992)" font-family="Liberation Sans" font-size="17.5" font-weight="bold" fill="#111">IFN</text>
<g transform="translate(219.40,-4.00)" fill="none" stroke="#111" stroke-linecap="round"><path d="M141.5,390.9 C141.6,389.1 142.9,388.4 143.9,390.0 L145.5,394.7" stroke-width="1.1"/><path d="M148.2,389.0 L145.6,394.3 L144.3,400.1" stroke-width="1.45"/></g>
<text transform="translate(390.10,392.70) scale(1.003,0.976)" font-family="Liberation Sans" font-size="17.5" font-weight="bold" fill="#111">TNF</text>
<g transform="translate(216.90,-3.60)" fill="none" stroke="#111" stroke-linecap="round"><path d="M216.3,391.0 C215.6,389.2 214.6,388.5 213.1,388.5 C211.0,388.5 210.2,390.5 210.2,392.6 C210.2,394.9 211.2,396.3 212.9,396.3 C214.6,396.3 215.6,394.8 216.4,392.9" stroke-width="1.25"/><path d="M218.4,388.9 C217.5,391.0 216.9,393.3 216.7,394.4 C216.9,396.0 218.2,396.2 219.5,395.1" stroke-width="1.25"/></g>
<text transform="translate(464.64,392.80) scale(1.032,0.992)" font-family="Liberation Sans" font-size="17.5" font-weight="bold" fill="#111">IL-2</text>
<text transform="translate(125.87,634.80) scale(1.025,1.115)" font-family="Liberation Sans" font-size="18.5" font-weight="bold" fill="#111">IL-4</text>
<text transform="translate(232.22,634.80) scale(1.053,1.115)" font-family="Liberation Sans" font-size="18.5" font-weight="bold" fill="#111">IL-5</text>
<text transform="translate(341.41,510.20) scale(0.992,1.065)" font-family="Liberation Sans" font-size="15" font-weight="bold" letter-spacing="1" fill="#111">Concentration ratio</text>
<text transform="translate(342.21,528.60) scale(0.983,1.029)" font-family="Liberation Sans" font-size="15" font-weight="bold" letter-spacing="1" fill="#111">FL+eMZL / healthy</text>
<text transform="translate(341.61,574.00) scale(0.990,1.086)" font-family="Liberation Sans" font-size="15" font-weight="bold" letter-spacing="1" fill="#111">Concentration ratio</text>
<text transform="translate(342.22,592.40) scale(0.972,1.029)" font-family="Liberation Sans" font-size="15" font-weight="bold" letter-spacing="1" fill="#111">CLL / healthy</text>
</svg>
</body></html>
